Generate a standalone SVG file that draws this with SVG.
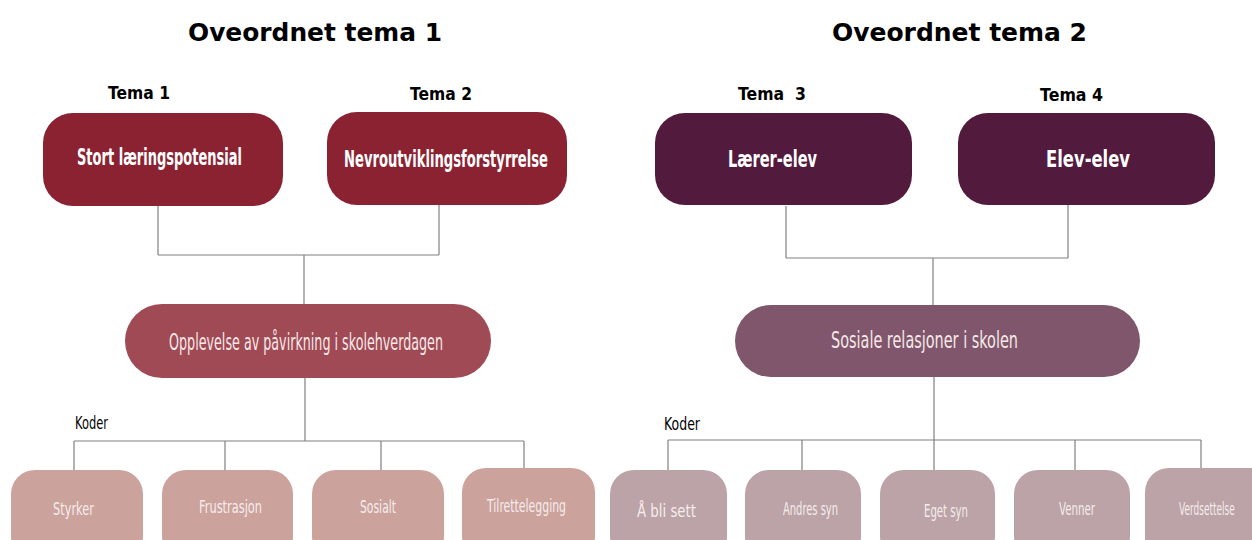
<svg xmlns="http://www.w3.org/2000/svg" width="1252" height="540" viewBox="0 0 1252 540">
<style>
.title{font-family:"DejaVu Sans","Verdana",sans-serif;font-weight:bold;font-size:24px;fill:#000}
.tema{font-family:"DejaVu Sans",sans-serif;font-weight:bold;font-size:18px;fill:#000}
.koder{font-family:"DejaVu Sans",sans-serif;font-size:17px;fill:#000}
.top{font-family:"DejaVu Sans",sans-serif;font-weight:bold;font-size:23px;fill:#fff}
.mid{font-family:"DejaVu Sans",sans-serif;font-size:23px;fill:#f6e8e8}
.code{font-family:"DejaVu Sans",sans-serif;font-size:18px;fill:#f6ecec}
.red{fill:#8a2232}
.plum{fill:#521a3c}
.midl{fill:#a04a55}
.midr{fill:#7f566b}
.codel{fill:#cca29d}
.coder{fill:#bba3a7}
.conn{fill:none;stroke:#808080;stroke-width:1.2}
</style>

<g id="titles">
<text class="title" x="188" y="41" textLength="254" lengthAdjust="spacingAndGlyphs">Oveordnet tema 1</text>
<text class="title" x="832" y="41" textLength="255" lengthAdjust="spacingAndGlyphs">Oveordnet tema 2</text>
<text class="tema" x="108" y="99" textLength="62" lengthAdjust="spacingAndGlyphs">Tema 1</text>
<text class="tema" x="410" y="100" textLength="62" lengthAdjust="spacingAndGlyphs">Tema 2</text>
<text class="tema" x="738" y="100" textLength="68" lengthAdjust="spacingAndGlyphs" xml:space="preserve">Tema  3</text>
<text class="tema" x="1040" y="101" textLength="63" lengthAdjust="spacingAndGlyphs">Tema 4</text>
<text class="koder" x="75" y="429" textLength="33" lengthAdjust="spacingAndGlyphs">Koder</text>
<text class="koder" x="664" y="430" textLength="36" lengthAdjust="spacingAndGlyphs">Koder</text>
</g>

<g id="connectors">
<path class="conn" d="M158 206 V255 M439 205 V255 M158 255 H439 M304 255 V304"/>
<path class="conn" d="M305 378 V441 M74 441 H524 M74 441 V470 M225 441 V470 M381 441 V470 M524 441 V468"/>
<path class="conn" d="M786 206 V258 M1068 205 V258 M786 258 H1068 M933 258 V305"/>
<path class="conn" d="M934 377 V470 M668 440 H1201 M668 440 V470 M802 440 V470 M1075 440 V470 M1201 440 V468"/>
</g>

<g id="n-stort">
<rect class="red" x="43" y="113" width="240" height="93" rx="30"/>
<text class="top" x="77" y="165" textLength="165" lengthAdjust="spacingAndGlyphs">Stort læringspotensial</text>
</g>
<g id="n-nevro">
<rect class="red" x="327" y="112" width="240" height="93" rx="30"/>
<text class="top" x="344" y="167" textLength="204" lengthAdjust="spacingAndGlyphs">Nevroutviklingsforstyrrelse</text>
</g>
<g id="n-laerer">
<rect class="plum" x="655" y="113" width="257" height="92" rx="30"/>
<text class="top" x="728" y="167" textLength="89" lengthAdjust="spacingAndGlyphs">Lærer-elev</text>
</g>
<g id="n-elev">
<rect class="plum" x="958" y="113" width="257" height="92" rx="30"/>
<text class="top" x="1046" y="167" textLength="84" lengthAdjust="spacingAndGlyphs">Elev-elev</text>
</g>

<g id="n-opplevelse">
<rect class="midl" x="125" y="304" width="366" height="74" rx="37"/>
<text class="mid" x="169" y="350" textLength="274" lengthAdjust="spacingAndGlyphs">Opplevelse av påvirkning i skolehverdagen</text>
</g>
<g id="n-sosiale">
<rect class="midr" x="735" y="305" width="405" height="72" rx="36"/>
<text class="mid" x="831" y="348" textLength="187" lengthAdjust="spacingAndGlyphs">Sosiale relasjoner i skolen</text>
</g>

<g id="c-styrker">
<rect class="codel" x="11" y="470" width="132" height="90" rx="24"/>
<text class="code" x="53" y="515" textLength="41" lengthAdjust="spacingAndGlyphs">Styrker</text>
</g>
<g id="c-frustrasjon">
<rect class="codel" x="162" y="470" width="131" height="90" rx="24"/>
<text class="code" x="199" y="513" textLength="63" lengthAdjust="spacingAndGlyphs">Frustrasjon</text>
</g>
<g id="c-sosialt">
<rect class="codel" x="312" y="470" width="132" height="90" rx="24"/>
<text class="code" x="360" y="513" textLength="36" lengthAdjust="spacingAndGlyphs">Sosialt</text>
</g>
<g id="c-tilrettelegging">
<rect class="codel" x="462" y="468" width="133" height="92" rx="24"/>
<text class="code" x="487" y="512" textLength="79" lengthAdjust="spacingAndGlyphs">Tilrettelegging</text>
</g>

<g id="c-bli-sett">
<rect class="coder" x="610" y="470" width="117" height="90" rx="24"/>
<text class="code" x="637" y="517" textLength="59" lengthAdjust="spacingAndGlyphs">Å bli sett</text>
</g>
<g id="c-andres">
<rect class="coder" x="745" y="470" width="116" height="90" rx="24"/>
<text class="code" x="783" y="515" textLength="55" lengthAdjust="spacingAndGlyphs">Andres syn</text>
</g>
<g id="c-eget">
<rect class="coder" x="880" y="470" width="115" height="90" rx="24"/>
<text class="code" x="924" y="517" textLength="44" lengthAdjust="spacingAndGlyphs">Eget syn</text>
</g>
<g id="c-venner">
<rect class="coder" x="1014" y="470" width="116" height="90" rx="24"/>
<text class="code" x="1059" y="515" textLength="36" lengthAdjust="spacingAndGlyphs">Venner</text>
</g>
<g id="c-verdsettelse">
<path class="coder" d="M1169 468 H1252 V540 H1145 V492 A24 24 0 0 1 1169 468 Z"/>
<text class="code" transform="translate(1179 515) scale(0.5 1)" x="0" y="0">Verdsettelse</text>
</g>
</svg>
